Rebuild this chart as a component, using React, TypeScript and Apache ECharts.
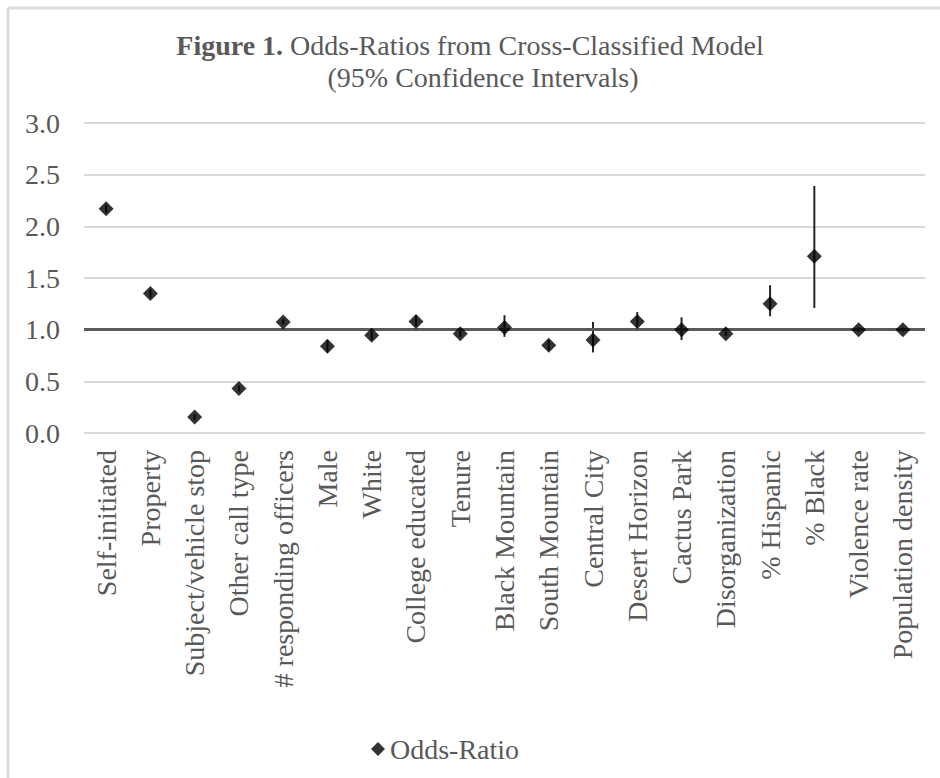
import React, { useEffect, useRef } from "react";
import * as echarts from "echarts";

const categories = [
  "Self-initiated", "Property", "Subject/vehicle stop", "Other call type",
  "# responding officers", "Male", "White", "College educated", "Tenure",
  "Black Mountain", "South Mountain", "Central City", "Desert Horizon",
  "Cactus Park", "Disorganization", "% Hispanic", "% Black",
  "Violence rate", "Population density",
];
const oddsRatio = [2.17, 1.35, 0.155, 0.43, 1.075, 0.84, 0.945, 1.08, 0.96, 1.02, 0.85, 0.9, 1.08, 1.0, 0.96, 1.25, 1.71, 1.0, 1.0];
const ciLower = [2.13, 1.31, 0.13, 0.4, 1.05, 0.78, 0.9, 1.03, 0.93, 0.93, 0.8, 0.78, 0.99, 0.9, 0.94, 1.13, 1.21, 0.98, 0.98];
const ciUpper = [2.21, 1.39, 0.18, 0.46, 1.1, 0.9, 0.99, 1.14, 0.99, 1.14, 0.9, 1.075, 1.17, 1.12, 0.98, 1.43, 2.39, 1.02, 1.02];
const yTicks = { min: 0, max: 3, interval: 0.5 };

const FONT = "'Liberation Serif', 'Times New Roman', serif";
const GRAY = "#595959";
const FS = 28;

export default function App() {
  const ref = useRef<HTMLDivElement>(null);
  useEffect(() => {
    document.body.style.margin = "0";
    const chart = echarts.init(ref.current!, null, { renderer: "svg" });
    const ciData = categories.map((_, i) => [i, ciLower[i], ciUpper[i]]);
    chart.setOption({
      animation: false,
      backgroundColor: "#ffffff",
      title: [
        {
          left: "center",
          top: 26,
          text: "{b|Figure 1.} Odds-Ratios from Cross-Classified Model",
          textStyle: {
            fontFamily: FONT, fontSize: FS, fontWeight: "normal", color: GRAY,
            rich: { b: { fontFamily: FONT, fontSize: FS, fontWeight: "bold", color: GRAY } },
          },
        },
        {
          left: 478,
          textAlign: "center",
          top: 58,
          text: "(95% Confidence Intervals)",
          textStyle: { fontFamily: FONT, fontSize: FS, fontWeight: "normal", color: GRAY },
        },
      ],
      legend: {
        data: [{ name: "Odds-Ratio", icon: "diamond" }],
        left: 366,
        top: 730,
        itemWidth: 14,
        itemHeight: 14,
        itemGap: 6,
        textStyle: { fontFamily: FONT, fontSize: FS, color: GRAY },
      },
      grid: { left: 84, right: 15, top: 123, bottom: 345, containLabel: false },
      xAxis: {
        type: "category",
        data: categories,
        axisLine: { show: false },
        axisTick: { show: false },
        axisLabel: {
          rotate: 90, interval: 0, margin: 17,
          fontFamily: FONT, fontSize: FS, color: GRAY,
        },
      },
      yAxis: {
        type: "value",
        min: yTicks.min, max: yTicks.max, interval: yTicks.interval,
        axisLine: { show: false },
        axisTick: { show: false },
        axisLabel: {
          margin: 24, fontFamily: FONT, fontSize: FS, color: GRAY,
          formatter: (v: number) => v.toFixed(1),
        },
        splitLine: { lineStyle: { color: "#d9d9d9", width: 2 } },
      },
      series: [
        {
          type: "custom",
          name: "CI",
          z: 2,
          data: ciData,
          renderItem: (params: any, api: any) => {
            const x = api.value(0);
            const lo = api.coord([x, api.value(1)]);
            const hi = api.coord([x, api.value(2)]);
            return {
              type: "line",
              shape: { x1: lo[0], y1: lo[1], x2: hi[0], y2: hi[1] },
              style: { stroke: "#262626", lineWidth: 2 },
            };
          },
          silent: true,
        },
        {
          type: "scatter",
          name: "Odds-Ratio",
          data: oddsRatio,
          symbol: "diamond",
          symbolSize: 15,
          z: 4,
          itemStyle: { color: "#000000" },
          markLine: {
            silent: true,
            symbol: "none",
            label: { show: false },
            lineStyle: { color: "#5a5a5a", width: 3, type: "solid" },
            data: [{ yAxis: 1 }],
            z: 3,
          },
        },
      ],
      graphic: [
        { type: "line", shape: { x1: 8, y1: 8, x2: 8, y2: 778 }, style: { stroke: "#dcdcdc", lineWidth: 3 } },
        { type: "line", shape: { x1: 8, y1: 8, x2: 940, y2: 8 }, style: { stroke: "#dcdcdc", lineWidth: 3 } },
      ],
    });
    return () => chart.dispose();
  }, []);
  return <div ref={ref} style={{ position: "absolute", left: 0, top: 0, width: 940, height: 778 }} />;
}
